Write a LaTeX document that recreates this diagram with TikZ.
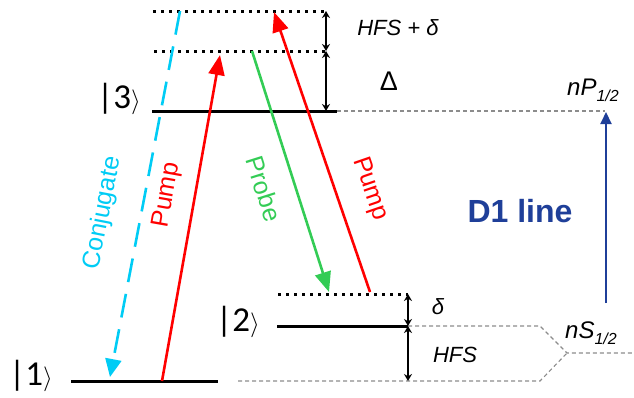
\documentclass[tikz,border=0pt]{standalone}
\usepackage{fontspec}
\setmainfont{Liberation Sans}
\newfontfamily\ketfont{Carlito}
\usetikzlibrary{arrows.meta}
\definecolor{cyanc}{HTML}{00CCF5}
\definecolor{redc}{HTML}{FF0000}
\definecolor{greenc}{HTML}{33CC55}
\definecolor{bluec}{HTML}{1F3F99}
\definecolor{greyc}{HTML}{8C8C8C}
\begin{document}
\begin{tikzpicture}[x=1pt,y=-1pt,
 level/.style={line width=3pt},
 virt/.style={line width=3pt, dash pattern=on 3pt off 5pt},
 guide/.style={greyc, line width=1.1pt, dash pattern=on 4pt off 3pt},
 beam/.style={line width=2.6pt, -{Triangle[length=20pt,width=16pt]}},
 gap/.style={line width=1.8pt, {Stealth[length=7pt,width=8pt]}-{Stealth[length=7pt,width=8pt]}},
 lab/.style={font=\fontsize{25}{28}\selectfont, inner sep=0pt},
 ket/.style={font=\ketfont\fontsize{35}{38}\selectfont, inner sep=0pt},
 note/.style={font=\fontsize{22}{24}\selectfont\itshape, inner sep=0pt},
 state/.style={font=\fontsize{24}{26}\selectfont\itshape, inner sep=0pt, anchor=base west}
]
\useasboundingbox (0,0) rectangle (634,397);
% level coordinates
\coordinate (t1) at (153,11); \coordinate (t2) at (325,11);
\coordinate (v1) at (154,51); \coordinate (v2) at (325,51);
\coordinate (l3a) at (152,111); \coordinate (l3b) at (337,111); \coordinate (l3g) at (605,111);
\coordinate (d2a) at (278,294); \coordinate (d2b) at (408,294);
\coordinate (l2a) at (277,326); \coordinate (l2b) at (408,326);
\coordinate (s2) at (540,326); \coordinate (sm) at (567,353); \coordinate (se) at (634,353);
\coordinate (l1a) at (71,381); \coordinate (l1b) at (218,381);
\coordinate (g1) at (238,381); \coordinate (s1) at (540,381);
\coordinate (ga) at (326,11); \coordinate (gb) at (326,51); \coordinate (gc) at (326,111);
\coordinate (gd) at (408,294); \coordinate (ge) at (408,326); \coordinate (gf) at (408,381);
% beam endpoints
\coordinate (cs) at (180,11); \coordinate (ce) at (110,377);
\coordinate (pls) at (162,381); \coordinate (ple) at (220,55);
\coordinate (prs) at (252,51); \coordinate (pre) at (329,292);
\coordinate (prrs) at (370,292); \coordinate (prre) at (274,12);
\coordinate (ds) at (606,303); \coordinate (de) at (606,112);

% grey guides
\draw[guide] (l3b) -- (l3g);
\draw[guide] (l2b) -- (s2) -- (sm) -- (se);
\draw[guide] (g1) -- (s1) -- (sm);

% levels
\draw[virt] (t1) -- (t2);
\draw[virt] (v1) -- (v2);
\draw[virt] (d2a) -- (d2b);
\draw[level] (l3a) -- (l3b);
\draw[level] (l2a) -- (l2b);
\draw[level] (l1a) -- (l1b);

% gaps
\draw[gap] (ga) -- (gb);
\draw[gap] (gb) -- (gc);
\draw[gap] (gd) -- (ge);
\draw[gap] (ge) -- (gf);

% beams
\draw[beam, cyanc, dash pattern=on 24pt off 12pt, -{Triangle[length=18pt,width=16pt]}] (cs) -- (ce);
\draw[beam, redc] (pls) -- (ple);
\draw[beam, greenc] (prs) -- (pre);
\draw[beam, redc] (prrs) -- (prre);
\draw[bluec, line width=2pt, -{Triangle[length=12pt,width=11pt]}] (ds) -- (de);

% labels
\node[lab, cyanc, rotate=79] (conj) at (103,213) {Conjugate};
\node[lab, redc, rotate=80] (pumpl) at (167,195) {Pump};
\node[lab, greenc, rotate=-72.5] (probe) at (264,189) {Probe};
\node[lab, redc, rotate=-71] (pumpr) at (370,189) {Pump};
\node[font=\fontsize{32}{36}\selectfont\bfseries, text=bluec, inner sep=0pt] (d1) at (520,211) {D1 line};

\node[ket] (k3) at (119,99) {|3$\rangle$};
\node[ket] (k2) at (238,322) {|2$\rangle$};
\node[ket] (k1) at (31,376) {|1$\rangle$};

\node[note] (hfsd) at (398,28) {HFS + δ};
\node[font=\fontsize{27}{28}\selectfont, inner sep=0pt] (Delta) at (389,81) {Δ};
\node[note] (dl) at (438,307) {δ};
\node[note] (hfs) at (455,355) {HFS};
\node[state] (np) at (567,95) {nP\raisebox{-6pt}{\fontsize{16}{16}\selectfont 1/2}};
\node[state] (ns) at (565,338) {nS\raisebox{-6pt}{\fontsize{16}{16}\selectfont 1/2}};
\end{tikzpicture}
\end{document}
